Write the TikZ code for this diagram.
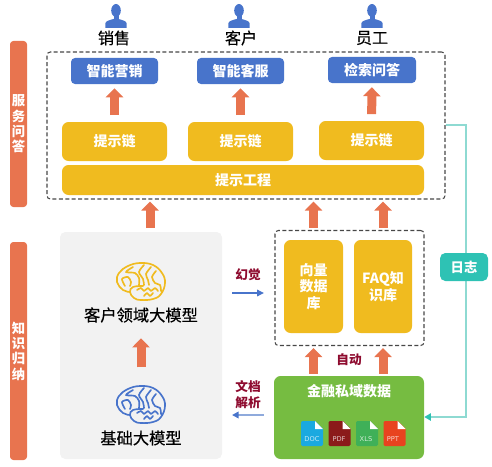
\documentclass[tikz,border=0pt]{standalone}
\usepackage{fontspec}
\setmainfont{Noto Sans CJK SC}
\newfontfamily\docfont{DejaVu Sans}
\newfontfamily\medfont[FakeBold=0.35]{Noto Sans CJK SC}
\usetikzlibrary{arrows.meta,positioning}
\definecolor{barorange}{HTML}{E8744F}
\definecolor{boxyellow}{HTML}{F0BB1F}
\definecolor{boxblue}{HTML}{4874CB}
\definecolor{boxgreen}{HTML}{76BC41}
\definecolor{boxgray}{HTML}{F2F2F2}
\definecolor{logteal}{HTML}{2EC2B4}
\definecolor{logline}{HTML}{8EDAD2}
\definecolor{notered}{HTML}{8E0B2F}
\definecolor{lightblue}{HTML}{8FAADC}
\definecolor{docblue}{HTML}{1AA9E0}
\definecolor{docred}{HTML}{8B1A1A}
\definecolor{docgreen}{HTML}{3FB058}
\definecolor{docorange}{HTML}{E8431F}
\tikzset{
  px/.style 2 args={minimum width=#1*0.75pt,minimum height=#2*0.75pt,inner sep=0pt},
  whitetext/.style={text=white,font=\fontsize{10.5pt}{12.5pt}\selectfont\bfseries,align=center},
  sidebar/.style={fill=barorange,rounded corners=2.5pt,text=white,align=center,font=\fontsize{10pt}{11.5pt}\selectfont\bfseries},
  bluebox/.style={fill=boxblue,rounded corners=3pt,whitetext},
  yellowbox/.style={fill=boxyellow,rounded corners=5pt,whitetext},
  dashbox/.style={draw=black!72,line width=.8pt,dash pattern=on 3pt off 1.8pt,rounded corners=2.5pt},
  usertext/.style={font=\medfont\fontsize{12pt}{14pt}\selectfont},
  modeltext/.style={font=\medfont\fontsize{12.2pt}{14pt}\selectfont},
  notetext/.style={text=notered,align=center,font=\fontsize{9.5pt}{12.5pt}\selectfont\bfseries},
  doclabel/.style={text=white,opacity=.75,font=\docfont\fontsize{5pt}{5pt}\selectfont},
  fatarrow/.style={draw=barorange,line width=6.75pt,-{Triangle[length=6.75pt,width=12.75pt]}},
  person/.pic={
    \fill[boxblue] (0,-9.5) ellipse (4.8 and 6.5);
    \fill[boxblue] (-2.5,-5) rectangle (2.5,2);
    \fill[boxblue] (-10.7,8) -- (-10.7,3.5) .. controls (-10.7,1) and (-6,0) .. (-2.5,-1) -- (2.5,-1) .. controls (6,0) and (10.7,1) .. (10.7,3.5) -- (10.7,8) -- cycle;
  },
  brain/.pic={
    \draw[line width=1.25pt,line cap=round,line join=round,pic actions]
      plot[smooth,tension=.7] coordinates {(2,4)(-8,5)(-11,10)(-7,16)(0,18)(12,17)(20,12)(24,1)(21,-9)(12,-17)(-1,-19)(-13,-16)(-22,-9)(-24,0)(-18,8)(-11,10)}
      plot[smooth] coordinates {(-16,4)(-19,-3)(-13,-5)(-10,0)(-11,4)}
      plot[smooth] coordinates {(-8,-15)(-15,-10)(-6,-9)(-2,-4)(-2,3)}
      plot[smooth] coordinates {(3,-17)(-2,-10)(2,-3)(3,3)}
      plot[smooth] coordinates {(10,-15)(5,-8)(7,-2)(8,3)}
      plot[smooth] coordinates {(15,-11)(11,-5)(14,1)(19,3)(20,9)}
      plot[smooth] coordinates {(-4,8)(0,6)(3,9)(7,6)(10,9)(14,6)(17,9)}
      plot[smooth] coordinates {(3,14)(6,11)(9,14)(12,11)};
  },
  docicon/.pic={
    \fill[pic actions,rounded corners=1pt] (-11,-12.5) rectangle (11,12.5);
    \fill[boxgreen] (3,-13) -- (11.5,-13) -- (11.5,-4.5) -- cycle;
    \fill[white] (3,-12.5) -- (11,-4.5) -- (3,-4.5) -- cycle;
  }
}
\begin{document}
\begin{tikzpicture}[x=0.75pt,y=-0.75pt]
\useasboundingbox (0,0) rectangle (492,467);
% left bars
\node[sidebar,px={17}{166}] (fuwu) at (18.5,124) {服\\务\\问\\答};
\node[sidebar,px={17}{218}] (zhishi) at (18.5,351) {知\\识\\归\\纳};
% service area
\node[dashbox,px={398}{147}] (dashtop) at (246,125.5) {};
\pic at (116,20) {person};
\pic at (239,20) {person};
\pic at (372,20) {person};
\node[usertext] (xiaoshou) at (114,38) {销售};
\node[usertext] (kehu) at (241,38) {客户};
\node[usertext] (yuangong) at (372,38) {员工};
\node[bluebox,px={87}{26}] (yingxiao) at (114.5,71) {智能营销};
\node[bluebox,px={87}{26}] (kefu) at (240.5,71) {智能客服};
\node[bluebox,px={88}{26}] (jiansuo) at (372,70) {检索问答};
\node[yellowbox,px={105}{39}] (lianA) at (114.5,141.5) {提示链};
\node[yellowbox,px={105}{39}] (lianB) at (240.5,141.5) {提示链};
\node[yellowbox,px={105}{39}] (lianC) at (371.5,140.5) {提示链};
\node[yellowbox,px={362}{30}] (gongcheng) at (243,180) {提示工程};
\draw[fatarrow,shorten <=5pt,shorten >=3pt] (lianA) -- (yingxiao);
\draw[fatarrow,shorten <=5pt,shorten >=3pt] (lianB) -- (kefu);
\draw[fatarrow,shorten <=5pt,shorten >=3pt] (lianC) -- (jiansuo);
% knowledge area
\node[fill=boxgray,rounded corners=4pt,px={162}{227}] (graybox) at (141,345.5) {};
\pic[color=boxyellow] at (141,282) {brain};
\pic[color=boxblue] at (141,405) {brain};
\node[modeltext] (lingyu) at (141,315) {客户领域大模型};
\node[modeltext] (jichu) at (141,438) {基础大模型};
\coordinate (braintop) at (141,386);
\draw[fatarrow,shorten <=14pt,shorten >=8.25pt] (braintop) -- (lingyu);
\node[dashbox,px={149}{115}] (dashlow) at (349.5,288) {};
\node[yellowbox,px={59}{93}] (xiangliang) at (313.5,286.5) {向量\\数据\\库};
\node[yellowbox,px={58}{93}] (faq) at (383,286.5) {FAQ知\\识库};
\node[fill=boxgreen,rounded corners=5pt,px={150}{83}] (jinrong) at (349,417.5) {};
\node[whitetext] (jinrongtext) at (349,391) {金融私域数据};
\pic[color=docblue] at (312,433.5) {docicon};
\pic[color=docred] at (339.5,433.5) {docicon};
\pic[color=docgreen] at (367,433.5) {docicon};
\pic[color=docorange] at (394.5,433.5) {docicon};
\node[doclabel] (doc) at (312,439.5) {DOC};
\node[doclabel] (pdf) at (339,439.5) {PDF};
\node[doclabel] (xls) at (366,439.5) {XLS};
\node[doclabel] (ppt) at (393,439.5) {PPT};
% arrows between areas
\coordinate (grayup) at (150,232);
\draw[fatarrow,shorten <=3pt,shorten >=1.5pt] (grayup) -- (grayup |- dashtop.south);
\draw[fatarrow,shorten <=1.5pt,shorten >=1.5pt] (dashlow.north -| xiangliang.north) -- (dashtop.south -| xiangliang.north);
\draw[fatarrow,shorten <=1.5pt,shorten >=1.5pt] (dashlow.north -| faq.north) -- (dashtop.south -| faq.north);
\draw[fatarrow,shorten <=1.5pt,shorten >=1.5pt] (jinrong.north -| xiangliang.south) -- (dashlow.south -| xiangliang.south);
\draw[fatarrow,shorten <=1.5pt,shorten >=1.5pt] (jinrong.north -| faq.south) -- (dashlow.south -| faq.south);
\node[notetext] (zidong) at (349,360) {自动};
\node[notetext] (huanjue) at (248,275) {幻觉};
\node[notetext] (wendang) at (248,394.5) {文档\\解析};
\coordinate (hjfrom) at (232,293);
\draw[boxblue,line width=.8pt,shorten >=8pt,-{Triangle[length=5pt,width=5pt]}] (hjfrom) -- (hjfrom -| dashlow.west);
\coordinate (jxto) at (232,415);
\draw[lightblue,line width=1.2pt,shorten <=7.5pt,-{Triangle[length=5pt,width=5pt,color=boxblue,fill=boxblue]}] (jxto -| jinrong.west) -- (jxto);
% log line
\coordinate (logtop) at (466,125);
\coordinate (logend) at (466,417);
\draw[logline,line width=1.2pt,-{Triangle[length=5pt,width=5.5pt,color=logteal,fill=logteal]}] (dashtop.east |- logtop) -- (logtop) -- (logend) -- (jinrong.east |- logend);
\node[fill=logteal,rounded corners=4pt,text=white,font=\fontsize{10pt}{12pt}\selectfont\bfseries,px={48}{28}] (rizhi) at (464,267) {日志};
\end{tikzpicture}
\end{document}
